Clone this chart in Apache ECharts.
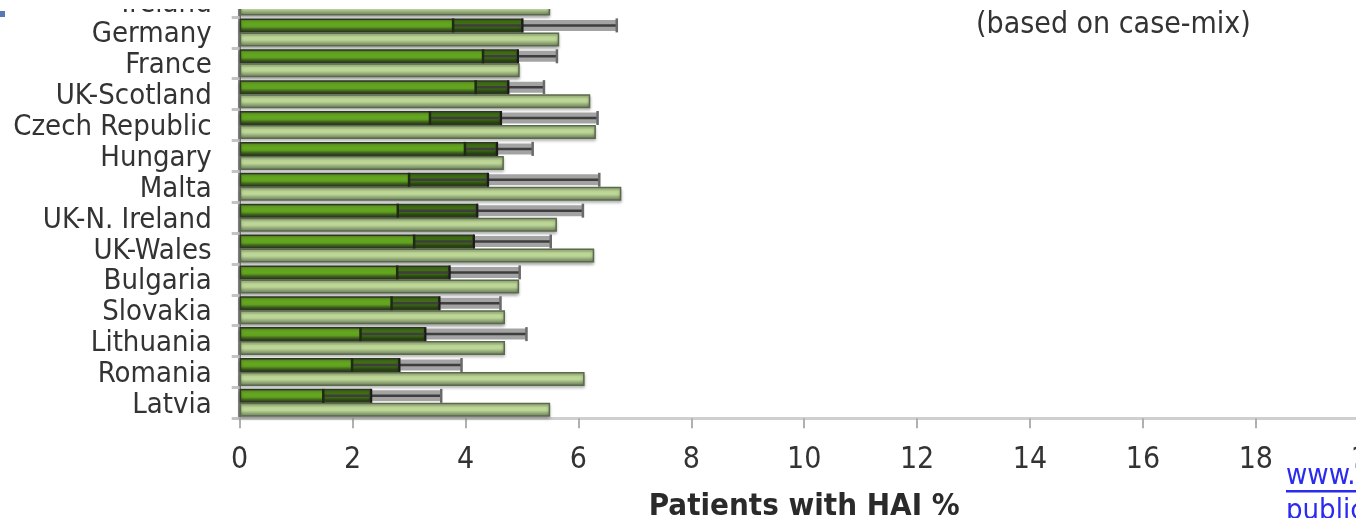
<!DOCTYPE html>
<html><head><meta charset="utf-8">
<script src="https://cdn.jsdelivr.net/npm/echarts@6/dist/echarts.min.js"></script>
<style>html,body{margin:0;padding:0;background:#fff;overflow:hidden}#c{width:1356px;height:518px}</style>
</head><body><div id="c"></div>
<script>
// ---- data ----
const categories = ['Ireland','Germany','France','UK-Scotland','Czech Republic','Hungary','Malta','UK-N. Ireland','UK-Wales','Bulgaria','Slovakia','Lithuania','Romania','Latvia'];
const lowerCI  = [null, 3.78, 4.31, 4.18, 3.37, 3.99, 3.00, 2.80, 3.09, 2.79, 2.69, 2.14, 1.99, 1.48];
const observed = [null, 5.01, 4.93, 4.76, 4.63, 4.56, 4.40, 4.21, 4.15, 3.72, 3.54, 3.29, 2.83, 2.33];
const upperCI  = [null, 6.68, 5.62, 5.39, 6.34, 5.19, 6.37, 6.08, 5.51, 4.96, 4.62, 5.08, 3.93, 3.57];
const expected = [5.50, 5.66, 4.96, 6.21, 6.31, 4.68, 6.76, 5.62, 6.28, 4.95, 4.70, 4.70, 6.11, 5.50];
const xAxisName = 'Patients with HAI %';
const noteText = '(based on case-mix)';

const FONT = '"DejaVu Sans Condensed","DejaVu Sans",sans-serif';
const BAR_H = 14;

const errData = categories.map((c, i) => [i, lowerCI[i], observed[i], upperCI[i]]);

const chart = echarts.init(document.getElementById('c'), null, {renderer: 'canvas'});
const grad = (stops) => new echarts.graphic.LinearGradient(0, 0, 0, 1, stops.map((s) => ({offset: s[0], color: s[1]})));

chart.setOption({
  animation: false,
  backgroundColor: '#ffffff',
  grid: {left: 239.7, right: -12.7, top: -13.9, bottom: 99.7, containLabel: false, outerBoundsMode: 'none'},
  xAxis: {
    type: 'value', min: 0, max: 20, interval: 2,
    name: xAxisName, nameLocation: 'middle', nameGap: 73,
    nameTextStyle: {fontFamily: FONT, fontSize: 31, fontWeight: 'bold', color: '#2a2a2a'},
    axisLine: {show: true, lineStyle: {color: '#cfcfcf', width: 3}},
    axisTick: {show: true, length: 10, lineStyle: {color: '#b0b0b0', width: 2}},
    axisLabel: {margin: 27, fontFamily: FONT, fontSize: 30, color: '#333', alignMinLabel: 'center', alignMaxLabel: 'center', hideOverlap: false},
    splitLine: {show: false}
  },
  yAxis: {
    type: 'category', inverse: true, data: categories,
    axisLine: {show: true, lineStyle: {color: '#8a8a8a', width: 3}},
    axisTick: {show: true, length: 8, lineStyle: {color: '#c4c4c4', width: 3}},
    axisLabel: {
      interval: 0, margin: 28, fontFamily: FONT, fontSize: 29, color: '#333',
      formatter: (v) => '{a|' + v + '}',
      rich: {a: {fontFamily: FONT, fontSize: 29, color: '#333', padding: [5, 0, 0, 0]}}
    },
    splitLine: {show: false}
  },
  series: [
    {
      type: 'bar', name: 'observed', data: observed, barWidth: BAR_H, barGap: '0%',
      itemStyle: {
        color: grad([[0,'#4f6440'],[0.22,'#6cb222'],[0.6,'#5fa01e'],[0.8,'#3c5a1e'],[1,'#2a3a1a']]),
        borderColor: '#2e3a22', borderWidth: 1.5,
        shadowColor: 'rgba(0,0,0,0.3)', shadowBlur: 3, shadowOffsetY: 2
      }
    },
    {
      type: 'bar', name: 'expected', data: expected, barWidth: BAR_H, barGap: '0%',
      itemStyle: {
        color: grad([[0,'#96ac78'],[0.3,'#c6e09e'],[0.55,'#bad494'],[0.8,'#889c70'],[1,'#6e7e62']]),
        borderColor: '#5a6a4c', borderWidth: 1.5,
        shadowColor: 'rgba(0,0,0,0.3)', shadowBlur: 3, shadowOffsetY: 2
      }
    },
    {
      type: 'custom', name: 'ci', data: errData, z: 5,
      encode: {x: [1, 2, 3], y: 0},
      renderItem: function (params, api) {
        const i = api.value(0), a = api.value(1), b = api.value(2), c = api.value(3);
        if (isNaN(a) || isNaN(b) || isNaN(c)) return;
        const pA = api.coord([a, i]), pB = api.coord([b, i]), pC = api.coord([c, i]);
        const cy = pA[1];
        const top = cy - BAR_H + 1.5, h = BAR_H - 3, mid = cy - BAR_H / 2;
        return {
          type: 'group',
          children: [
            {type: 'rect', shape: {x: pA[0], y: top, width: pB[0] - pA[0], height: h}, style: {fill: 'rgba(20,45,5,0.45)'}},
            {type: 'rect', shape: {x: pB[0], y: mid - 5.5, width: pC[0] - pB[0], height: 11}, style: {fill: 'rgba(140,140,140,0.8)'}},
            {type: 'line', shape: {x1: pA[0], y1: mid, x2: pC[0], y2: mid}, style: {stroke: '#3e3e3e', lineWidth: 2.5}},
            {type: 'line', shape: {x1: pA[0], y1: cy - BAR_H, x2: pA[0], y2: cy}, style: {stroke: '#1e2a12', lineWidth: 2.5}},
            {type: 'line', shape: {x1: pB[0], y1: cy - BAR_H, x2: pB[0], y2: cy}, style: {stroke: '#1a1a1a', lineWidth: 2}},
            {type: 'line', shape: {x1: pC[0], y1: cy - BAR_H, x2: pC[0], y2: cy}, style: {stroke: '#6a6a6a', lineWidth: 2.5}}
          ]
        };
      }
    }
  ],
  graphic: [
    {type: 'rect', z: 100, left: 0, top: 0, shape: {width: 1356, height: 9}, style: {fill: '#ffffff'}},
    {type: 'rect', z: 101, left: 0, top: 11, shape: {width: 5, height: 6}, style: {fill: '#5b78b4'}},
    {type: 'text', z: 100, left: 976, top: 10, style: {text: noteText, font: '30px ' + FONT, fill: '#333'}},
    {type: 'text', z: 100, left: 1286, top: 462, style: {text: 'www.', font: '29px ' + FONT, fill: '#2b2bf0', backgroundColor: '#ffffff'}},
    {type: 'rect', z: 100, left: 1286, top: 490, shape: {width: 80, height: 2.5}, style: {fill: '#2b2bf0'}},
    {type: 'text', z: 100, left: 1286, top: 497, style: {text: 'public', font: '29px ' + FONT, fill: '#2b2bf0'}}
  ]
});
</script></body></html>
